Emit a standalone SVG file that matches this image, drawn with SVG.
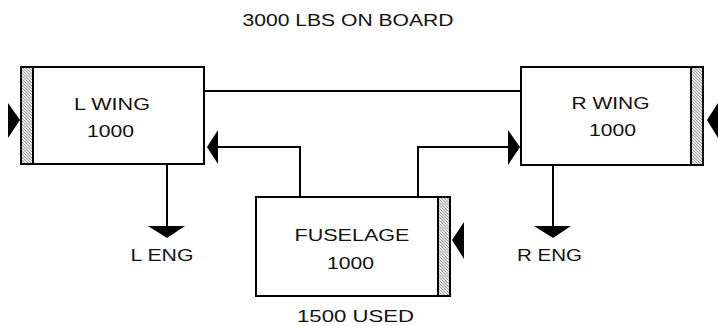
<svg xmlns="http://www.w3.org/2000/svg" width="718" height="326" viewBox="0 0 718 326">
<defs>
<pattern id="hatch" width="3" height="3" patternUnits="userSpaceOnUse">
<rect width="3" height="3" fill="#e4e4e4"/>
<path d="M0 0 L3 3 M-1 2 L1 4 M2 -1 L4 1" stroke="#7a7a7a" stroke-width="0.6"/>
</pattern>
</defs>
<style>
.box{fill:#fff;stroke:#000;stroke-width:2}
.hatch{fill:url(#hatch);stroke:#000;stroke-width:2}
.t{font-family:"Liberation Sans",Arial,sans-serif;font-size:16.5px;fill:#111}
.line{fill:none;stroke:#000;stroke-width:2}
.head{fill:#000}
</style>
<rect width="718" height="326" fill="#fff"/>
<g id="title">
<text class="t" x="242.5" y="26" textLength="211" lengthAdjust="spacingAndGlyphs">3000 LBS ON BOARD</text>
</g>
<g id="connectors">
<path class="line" d="M204 91 H521"/>
<path class="line" d="M300 197 V147 H218"/>
<polygon class="head" points="207,147 218,130 218,164"/>
<path class="line" d="M418 197 V147 H508"/>
<polygon class="head" points="520,147 508,130 508,165"/>
<path class="line" d="M167 164 V226"/>
<polygon class="head" points="148,226 185,226 167,238"/>
<path class="line" d="M553 165 V226"/>
<polygon class="head" points="534,226 571,226 553,238"/>
<polygon class="head" points="8,103 8,138 20,120"/>
<polygon class="head" points="718,103 718,138 707,120"/>
<polygon class="head" points="464,222 464,259 452,240"/>
</g>
<g id="lwing">
<rect class="box" x="21" y="67" width="183" height="97"/>
<rect class="hatch" x="21" y="67" width="12" height="97"/>
<text class="t" x="74" y="110" textLength="76" lengthAdjust="spacingAndGlyphs">L WING</text>
<text class="t" x="87" y="136.5" textLength="47" lengthAdjust="spacingAndGlyphs">1000</text>
</g>
<g id="rwing">
<rect class="box" x="521" y="67" width="182" height="98"/>
<rect class="hatch" x="691" y="67" width="12" height="98"/>
<text class="t" x="571.5" y="108.5" textLength="78" lengthAdjust="spacingAndGlyphs">R WING</text>
<text class="t" x="589" y="136" textLength="47" lengthAdjust="spacingAndGlyphs">1000</text>
</g>
<g id="fuselage">
<rect class="box" x="256" y="197" width="194" height="99"/>
<rect class="hatch" x="438" y="197" width="12" height="99"/>
<text class="t" x="294.5" y="241" textLength="115" lengthAdjust="spacingAndGlyphs">FUSELAGE</text>
<text class="t" x="327" y="268.5" textLength="47" lengthAdjust="spacingAndGlyphs">1000</text>
</g>
<g id="leng">
<text class="t" x="130.5" y="261" textLength="63" lengthAdjust="spacingAndGlyphs">L ENG</text>
</g>
<g id="reng">
<text class="t" x="517" y="260.5" textLength="65" lengthAdjust="spacingAndGlyphs">R ENG</text>
</g>
<g id="used">
<text class="t" x="297" y="322" textLength="117" lengthAdjust="spacingAndGlyphs">1500 USED</text>
</g>
</svg>
